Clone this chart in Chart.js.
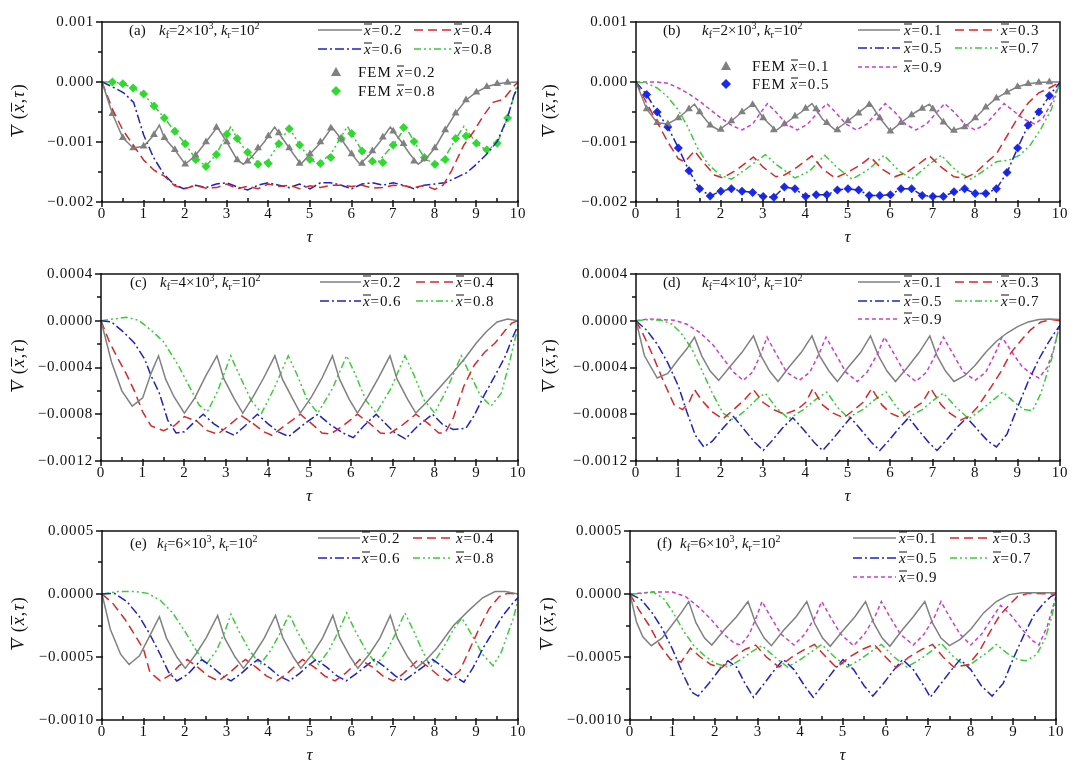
<!DOCTYPE html>
<html lang="en">
<head>
<meta charset="UTF-8">
<title>Dynamic response V(x,τ) for different foundation stiffness</title>
<script src="https://cdn.jsdelivr.net/npm/chart.js"></script>
<style>
    body {
        margin: 0;
        width: 1076px;
        height: 760px;
        position: relative;
        overflow: hidden;
        background: #fff;
        font-family: 'Liberation Serif', 'Times New Roman', serif;
        color: #111;
    }
    canvas { position: absolute; }
    .txt {
        position: absolute;
        white-space: nowrap;
        font-size: 15px;
        line-height: 1;
        transform: translateY(-50%);
    }
    .key-txt { letter-spacing: 0.9px; }
    .fem { letter-spacing: 1px; }
    .ov {
        display: inline-block;
        font-style: italic;
        line-height: 0.72em;
        border-top: 1px solid currentColor;
    }
    .sub { font-size: 10px; vertical-align: -3px; }
    .sup { font-size: 10px; vertical-align: 6px; }
    .ytitle {
        position: absolute;
        white-space: nowrap;
        font-size: 18px;
        letter-spacing: 1px;
        line-height: 1;
        transform: translate(-50%, -50%) rotate(-90deg);
    }
    svg.key { position: absolute; overflow: visible; }
</style>
</head>
<body>
<script>
// ---- axis ticks ----
const xTicks = [0, 1, 2, 3, 4, 5, 6, 7, 8, 9, 10];
const yTicksAB = [0.001, 0, -0.001, -0.002];
const yTicksCD = [0.0004, 0, -0.0004, -0.0008, -0.0012];
const yTicksEF = [0.0005, 0, -0.0005, -0.001];

// ---- (a) kf=2e3, x = 0.2 / 0.4 / 0.6 / 0.8 ----  [tau, V]
const a_x02 = [[0,0],[0.25,-0.00053],[0.5,-0.00093],[0.75,-0.0011],[1,-0.00107],[1.2,-0.00092],[1.38,-0.00072],[1.5,-0.00093],[1.75,-0.00113],[2,-0.00137],[2.25,-0.00122],[2.5,-0.001],[2.77,-0.00075],[3,-0.001],[3.25,-0.0013],[3.4,-0.00137],[3.6,-0.00125],[3.9,-0.001],[4.15,-0.00075],[4.4,-0.001],[4.6,-0.0012],[4.78,-0.00137],[5,-0.0012],[5.3,-0.00098],[5.53,-0.00075],[5.8,-0.001],[6,-0.0012],[6.2,-0.00137],[6.45,-0.0012],[6.7,-0.00098],[6.93,-0.00075],[7.2,-0.001],[7.4,-0.0012],[7.6,-0.00137],[7.8,-0.00127],[8,-0.0011],[8.25,-0.0008],[8.5,-0.00052],[8.75,-0.0003],[9,-0.00017],[9.25,-0.00008],[9.5,-0.00003],[9.75,-0.00001],[10,0]];
const a_x04 = [[0,0],[0.25,-0.00045],[0.5,-0.0008],[0.75,-0.00105],[1,-0.0013],[1.25,-0.00147],[1.5,-0.00157],[1.75,-0.00173],[2,-0.00178],[2.25,-0.00172],[2.5,-0.00177],[2.75,-0.00176],[3,-0.0017],[3.25,-0.00178],[3.5,-0.00174],[3.75,-0.00178],[4,-0.0017],[4.25,-0.00174],[4.5,-0.00172],[4.75,-0.00178],[5,-0.00173],[5.25,-0.00176],[5.5,-0.00172],[5.75,-0.00172],[6,-0.00174],[6.25,-0.00172],[6.5,-0.00177],[6.75,-0.00176],[7,-0.00172],[7.25,-0.00173],[7.5,-0.00176],[7.75,-0.00172],[8,-0.00179],[8.2,-0.00172],[8.4,-0.00148],[8.7,-0.00105],[8.93,-0.00083],[9.17,-0.00056],[9.4,-0.00034],[9.65,-0.00029],[9.9,-0.00007],[10,0]];
const a_x06 = [[0,0],[0.25,-0.00008],[0.52,-0.00018],[0.76,-0.00034],[1,-0.00088],[1.24,-0.00126],[1.48,-0.00153],[1.72,-0.0017],[1.96,-0.00178],[2.25,-0.00172],[2.5,-0.00176],[2.75,-0.0017],[3,-0.00168],[3.25,-0.00175],[3.5,-0.0018],[3.75,-0.00172],[4,-0.00168],[4.25,-0.00172],[4.5,-0.00176],[4.75,-0.0017],[5,-0.00178],[5.25,-0.00168],[5.5,-0.00168],[5.75,-0.00172],[6,-0.00178],[6.25,-0.0017],[6.5,-0.00168],[6.75,-0.00172],[7,-0.00168],[7.25,-0.00172],[7.5,-0.00178],[7.75,-0.00172],[8,-0.0017],[8.25,-0.00168],[8.53,-0.00159],[8.77,-0.00151],[9,-0.00137],[9.25,-0.0012],[9.5,-0.00099],[9.74,-0.00061],[9.9,-0.00023],[10,-0.00008]];
const a_x08 = [[0,0],[0.25,0],[0.5,-0.00003],[0.75,-0.0001],[1,-0.0002],[1.25,-0.0004],[1.5,-0.0006],[1.75,-0.00082],[2,-0.00103],[2.25,-0.00128],[2.5,-0.0014],[2.75,-0.0012],[3.1,-0.00074],[3.25,-0.00095],[3.5,-0.00118],[3.8,-0.00138],[4,-0.0013],[4.25,-0.00103],[4.5,-0.00076],[4.75,-0.00105],[5,-0.00128],[5.2,-0.00137],[5.5,-0.0012],[5.9,-0.00074],[6.25,-0.00115],[6.6,-0.00136],[7,-0.00105],[7.3,-0.00075],[7.5,-0.00099],[7.75,-0.00126],[8,-0.00138],[8.25,-0.00125],[8.5,-0.00095],[8.7,-0.00074],[9,-0.00102],[9.25,-0.00114],[9.5,-0.00102],[9.75,-0.0006],[10,0]];
const a_fem02 = [[0.25,-0.00053],[0.5,-0.00093],[0.75,-0.0011],[1,-0.00107],[1.25,-0.00088],[1.5,-0.00093],[1.75,-0.00113],[2,-0.00137],[2.25,-0.00122],[2.5,-0.001],[2.75,-0.00076],[3,-0.001],[3.25,-0.0013],[3.5,-0.00132],[3.75,-0.0011],[4,-0.0009],[4.25,-0.00085],[4.5,-0.0011],[4.75,-0.00136],[5,-0.0012],[5.25,-0.001],[5.5,-0.00077],[5.75,-0.00095],[6,-0.0012],[6.25,-0.00136],[6.5,-0.00115],[6.75,-0.00092],[7,-0.00082],[7.25,-0.00103],[7.5,-0.00132],[7.75,-0.00128],[8,-0.0011],[8.25,-0.0008],[8.5,-0.00052],[8.75,-0.0003],[9,-0.00017],[9.25,-0.00008],[9.5,-0.00003],[9.75,-0.00001]];
const a_fem08 = [[0.25,0],[0.5,-0.00003],[0.75,-0.0001],[1,-0.0002],[1.25,-0.0004],[1.5,-0.0006],[1.75,-0.00082],[2,-0.00103],[2.25,-0.00129],[2.5,-0.00141],[2.75,-0.00121],[3,-0.00087],[3.25,-0.00094],[3.5,-0.00117],[3.75,-0.00137],[4,-0.00136],[4.25,-0.00103],[4.5,-0.00078],[4.75,-0.00105],[5,-0.00129],[5.25,-0.00136],[5.5,-0.00126],[5.75,-0.00094],[6,-0.00086],[6.25,-0.00115],[6.5,-0.00132],[6.75,-0.00134],[7,-0.00105],[7.25,-0.00076],[7.5,-0.00099],[7.75,-0.00126],[8,-0.00137],[8.25,-0.00129],[8.5,-0.00094],[8.75,-0.0009],[9,-0.00102],[9.25,-0.00113],[9.5,-0.00102],[9.75,-0.0006]];

// ---- (b) kf=2e3, x = 0.1 / 0.3 / 0.5 / 0.7 / 0.9 ----
const b_x01 = [[0,0],[0.25,-0.00045],[0.5,-0.00068],[0.75,-0.0007],[1,-0.0006],[1.25,-0.00045],[1.38,-0.00037],[1.5,-0.0005],[1.75,-0.00072],[1.95,-0.0008],[2.25,-0.00065],[2.5,-0.0005],[2.77,-0.00036],[3,-0.0006],[3.3,-0.00081],[3.6,-0.00065],[3.9,-0.0005],[4.15,-0.00036],[4.4,-0.00062],[4.7,-0.0008],[5,-0.00065],[5.3,-0.00048],[5.53,-0.00036],[5.75,-0.0006],[6,-0.00082],[6.3,-0.00065],[6.6,-0.0005],[6.92,-0.00037],[7.2,-0.00062],[7.45,-0.00081],[7.75,-0.00075],[8,-0.0006],[8.25,-0.00042],[8.5,-0.00027],[8.75,-0.00017],[9,-0.00008],[9.25,-0.00003],[9.5,-0.00001],[9.75,0],[10,0]];
const b_x03 = [[0,0],[0.25,-0.00035],[0.5,-0.00067],[0.75,-0.001],[1,-0.00128],[1.15,-0.00133],[1.38,-0.00115],[1.6,-0.00135],[1.85,-0.00155],[2.05,-0.0016],[2.4,-0.00145],[2.77,-0.00125],[3,-0.00142],[3.3,-0.00158],[3.5,-0.00155],[3.8,-0.00142],[4.15,-0.00123],[4.4,-0.00145],[4.7,-0.0016],[5,-0.0015],[5.3,-0.00138],[5.53,-0.00125],[5.8,-0.00145],[6.1,-0.00158],[6.4,-0.0015],[6.7,-0.00135],[6.92,-0.00123],[7.2,-0.00142],[7.5,-0.00158],[7.75,-0.0016],[8,-0.00152],[8.25,-0.00135],[8.5,-0.0012],[8.75,-0.0009],[9,-0.0006],[9.25,-0.00035],[9.5,-0.00018],[9.75,-0.0001],[10,0]];
const b_x05 = [[0,0],[0.25,-0.00021],[0.5,-0.0005],[0.75,-0.00075],[1,-0.0011],[1.25,-0.00148],[1.5,-0.00178],[1.75,-0.0019],[2,-0.00182],[2.25,-0.00178],[2.5,-0.00182],[2.75,-0.00184],[3,-0.00191],[3.25,-0.00192],[3.5,-0.00175],[3.75,-0.00178],[4,-0.00191],[4.25,-0.00188],[4.5,-0.00188],[4.75,-0.0018],[5,-0.00178],[5.25,-0.0018],[5.5,-0.00189],[5.75,-0.00189],[6,-0.00188],[6.25,-0.00178],[6.5,-0.00178],[6.75,-0.00189],[7,-0.00191],[7.25,-0.00191],[7.5,-0.00183],[7.75,-0.00178],[8,-0.00186],[8.25,-0.00186],[8.5,-0.00178],[8.75,-0.00151],[9,-0.0011],[9.25,-0.00072],[9.5,-0.0005],[9.75,-0.00023],[10,0]];
const b_x07 = [[0,0],[0.25,-0.00002],[0.5,-0.0001],[0.75,-0.00025],[1,-0.00047],[1.2,-0.00072],[1.45,-0.0011],[1.7,-0.00137],[2,-0.00156],[2.25,-0.00162],[2.6,-0.00145],[3.05,-0.00121],[3.3,-0.00137],[3.75,-0.0016],[4.1,-0.00148],[4.45,-0.00122],[4.75,-0.00143],[5.1,-0.00162],[5.5,-0.00145],[5.85,-0.00122],[6.2,-0.00148],[6.5,-0.00162],[6.9,-0.00138],[7.2,-0.00122],[7.55,-0.00148],[7.9,-0.00162],[8.2,-0.00148],[8.5,-0.00133],[8.8,-0.0013],[9.05,-0.00122],[9.3,-0.00105],[9.55,-0.00078],[9.8,-0.00045],[10,0]];
const b_x09 = [[0,0],[0.5,0],[0.75,-0.00002],[1,-0.0001],[1.25,-0.0002],[1.5,-0.00032],[1.75,-0.00046],[2,-0.0006],[2.25,-0.00072],[2.5,-0.0008],[2.75,-0.0007],[2.95,-0.0005],[3.1,-0.00036],[3.3,-0.0005],[3.55,-0.0007],[3.8,-0.0008],[4.05,-0.0007],[4.3,-0.0005],[4.5,-0.00036],[4.7,-0.0005],[4.95,-0.0007],[5.2,-0.0008],[5.45,-0.0007],[5.7,-0.0005],[5.88,-0.00036],[6.1,-0.0005],[6.35,-0.0007],[6.6,-0.0008],[6.85,-0.0007],[7.1,-0.0005],[7.28,-0.00036],[7.5,-0.0005],[7.75,-0.0007],[8,-0.0008],[8.25,-0.0007],[8.5,-0.0005],[8.68,-0.00036],[8.9,-0.00048],[9.15,-0.00062],[9.4,-0.0007],[9.6,-0.0006],[9.8,-0.00035],[10,0]];
const b_fem01 = [[0.25,-0.00045],[0.5,-0.00068],[0.75,-0.0007],[1,-0.0006],[1.25,-0.00045],[1.5,-0.0005],[1.75,-0.00072],[2,-0.00079],[2.25,-0.00065],[2.5,-0.0005],[2.75,-0.00038],[3,-0.0006],[3.25,-0.0008],[3.5,-0.0007],[3.75,-0.00057],[4,-0.00044],[4.25,-0.00045],[4.5,-0.00068],[4.75,-0.0008],[5,-0.00065],[5.25,-0.00052],[5.5,-0.00038],[5.75,-0.0006],[6,-0.00082],[6.25,-0.00068],[6.5,-0.00055],[6.75,-0.00044],[7,-0.00045],[7.25,-0.00067],[7.5,-0.00081],[7.75,-0.00075],[8,-0.0006],[8.25,-0.00042],[8.5,-0.00027],[8.75,-0.00017],[9,-0.00008],[9.25,-0.00003],[9.5,-0.00001],[9.75,0]];
const b_fem05 = [[0.25,-0.00021],[0.5,-0.0005],[0.75,-0.00075],[1,-0.0011],[1.25,-0.00148],[1.5,-0.00178],[1.75,-0.0019],[2,-0.00182],[2.25,-0.00178],[2.5,-0.00182],[2.75,-0.00184],[3,-0.00191],[3.25,-0.00192],[3.5,-0.00175],[3.75,-0.00178],[4,-0.00191],[4.25,-0.00188],[4.5,-0.00188],[4.75,-0.0018],[5,-0.00178],[5.25,-0.0018],[5.5,-0.00189],[5.75,-0.00189],[6,-0.00188],[6.25,-0.00178],[6.5,-0.00178],[6.75,-0.00189],[7,-0.00191],[7.25,-0.00191],[7.5,-0.00183],[7.75,-0.00178],[8,-0.00186],[8.25,-0.00186],[8.5,-0.00178],[8.75,-0.00151],[9,-0.0011],[9.25,-0.00072],[9.5,-0.0005],[9.75,-0.00023]];

// ---- (c) kf=4e3, x = 0.2 / 0.4 / 0.6 / 0.8 ----
const c_x02 = [[0,0],[0.25,-0.00035],[0.5,-0.0006],[0.75,-0.00073],[1,-0.00066],[1.2,-0.00045],[1.38,-0.0003],[1.55,-0.0005],[1.75,-0.00065],[2,-0.00079],[2.25,-0.00066],[2.5,-0.00048],[2.78,-0.0003],[2.95,-0.0005],[3.2,-0.00067],[3.4,-0.00079],[3.65,-0.00065],[3.9,-0.00049],[4.17,-0.0003],[4.35,-0.0005],[4.6,-0.00067],[4.78,-0.00079],[5.05,-0.00065],[5.3,-0.00049],[5.55,-0.0003],[5.72,-0.0005],[5.95,-0.00067],[6.15,-0.00079],[6.4,-0.00065],[6.65,-0.00049],[6.93,-0.0003],[7.1,-0.0005],[7.35,-0.00067],[7.55,-0.00079],[7.8,-0.0007],[8,-0.00062],[8.25,-0.00052],[8.5,-0.00042],[8.75,-0.00031],[9,-0.00019],[9.25,-0.00009],[9.5,-0.00001],[9.75,0.000015],[10,0]];
const c_x04 = [[0,0],[0.2,-0.00018],[0.4,-0.00032],[0.6,-0.00045],[0.8,-0.0006],[1,-0.00078],[1.2,-0.0009],[1.5,-0.00094],[1.75,-0.0009],[2,-0.00082],[2.3,-0.00086],[2.55,-0.00094],[2.8,-0.00097],[3.05,-0.0009],[3.35,-0.00081],[3.65,-0.00088],[3.9,-0.00095],[4.1,-0.00098],[4.4,-0.0009],[4.78,-0.0008],[5.05,-0.00088],[5.3,-0.00096],[5.5,-0.00097],[5.8,-0.0009],[6.15,-0.0008],[6.45,-0.00088],[6.7,-0.00096],[6.9,-0.00097],[7.2,-0.0009],[7.55,-0.0008],[7.85,-0.00088],[8.1,-0.00096],[8.25,-0.00096],[8.45,-0.00083],[8.7,-0.00056],[8.95,-0.00038],[9.2,-0.00027],[9.45,-0.00019],[9.7,-0.00008],[9.85,-0.00002],[10,0]];
const c_x06 = [[0,0],[0.25,-0.00001],[0.55,-0.0001],[0.8,-0.00019],[1.05,-0.00033],[1.2,-0.00047],[1.4,-0.00062],[1.6,-0.00085],[1.8,-0.00096],[2,-0.00095],[2.2,-0.00088],[2.45,-0.0008],[2.7,-0.00088],[2.95,-0.00094],[3.2,-0.00098],[3.45,-0.0009],[3.75,-0.0008],[4,-0.00088],[4.25,-0.00095],[4.5,-0.00099],[4.85,-0.00089],[5.2,-0.0008],[5.5,-0.00089],[5.8,-0.00096],[6.05,-0.001],[6.3,-0.0009],[6.6,-0.0008],[6.85,-0.00089],[7.05,-0.00096],[7.3,-0.00101],[7.6,-0.0009],[7.95,-0.0008],[8.2,-0.00089],[8.45,-0.00093],[8.75,-0.00092],[8.95,-0.00081],[9.2,-0.00063],[9.45,-0.00047],[9.7,-0.0003],[9.85,-0.00016],[10,-0.00004]];
const c_x08 = [[0,0],[0.3,0.000015],[0.6,0.00003],[0.9,0.000005],[1.2,-0.00008],[1.5,-0.00018],[1.85,-0.00038],[2.1,-0.00055],[2.35,-0.00072],[2.55,-0.00078],[2.8,-0.0006],[3.11,-0.0003],[3.3,-0.00045],[3.6,-0.00068],[3.85,-0.00079],[4.15,-0.00058],[4.49,-0.0003],[4.7,-0.00046],[4.95,-0.00068],[5.2,-0.00079],[5.55,-0.00058],[5.89,-0.0003],[6.1,-0.00046],[6.35,-0.00068],[6.6,-0.00079],[6.95,-0.00058],[7.29,-0.0003],[7.5,-0.00046],[7.75,-0.00068],[8,-0.00079],[8.3,-0.00058],[8.64,-0.0003],[8.85,-0.00046],[9.1,-0.00064],[9.35,-0.00073],[9.6,-0.00062],[9.8,-0.00035],[10,-0.00005]];

// ---- (d) kf=4e3, x = 0.1 / 0.3 / 0.5 / 0.7 / 0.9 ----
const d_x01 = [[0,0],[0.2,-0.0003],[0.5,-0.00049],[0.75,-0.00045],[1,-0.00033],[1.2,-0.00024],[1.38,-0.00014],[1.55,-0.0003],[1.75,-0.00043],[1.95,-0.00051],[2.2,-0.0004],[2.5,-0.00027],[2.77,-0.00013],[2.95,-0.0003],[3.15,-0.00043],[3.35,-0.00052],[3.6,-0.0004],[3.9,-0.00027],[4.15,-0.00013],[4.33,-0.0003],[4.55,-0.00043],[4.75,-0.00052],[5,-0.0004],[5.3,-0.00027],[5.53,-0.00013],[5.72,-0.0003],[5.92,-0.00043],[6.12,-0.00052],[6.4,-0.0004],[6.68,-0.00027],[6.93,-0.00013],[7.1,-0.0003],[7.3,-0.00043],[7.5,-0.00052],[7.75,-0.00047],[8,-0.00038],[8.25,-0.00027],[8.5,-0.000175],[8.75,-0.000105],[9,-0.00005],[9.25,-0.00001],[9.5,0.00001],[9.75,0.000015],[10,0.00001]];
const d_x03 = [[0,0],[0.15,-0.0001],[0.4,-0.0003],[0.65,-0.00052],[0.9,-0.00072],[1.1,-0.00076],[1.25,-0.0007],[1.38,-0.00059],[1.55,-0.00068],[1.8,-0.00078],[2.05,-0.00084],[2.3,-0.00076],[2.55,-0.00068],[2.77,-0.00059],[3,-0.0007],[3.25,-0.00076],[3.5,-0.0008],[3.8,-0.00076],[4,-0.0007],[4.17,-0.00058],[4.4,-0.00072],[4.65,-0.00079],[4.9,-0.00083],[5.15,-0.00076],[5.35,-0.0007],[5.56,-0.00058],[5.8,-0.00072],[6,-0.00079],[6.25,-0.00083],[6.5,-0.00076],[6.75,-0.0007],[6.95,-0.00058],[7.2,-0.00072],[7.4,-0.00079],[7.65,-0.00085],[7.85,-0.00082],[8.05,-0.00074],[8.35,-0.00058],[8.6,-0.00044],[8.85,-0.00027],[9.1,-0.00016],[9.3,-0.00008],[9.55,-0.00001],[9.8,0.00001],[10,0]];
const d_x05 = [[0,0],[0.25,-0.00008],[0.5,-0.0002],[0.75,-0.00036],[1,-0.00056],[1.2,-0.00078],[1.4,-0.00098],[1.6,-0.00108],[1.8,-0.00103],[2.05,-0.00092],[2.3,-0.00082],[2.55,-0.00093],[2.8,-0.00104],[3,-0.00111],[3.2,-0.00103],[3.45,-0.00092],[3.7,-0.00083],[3.95,-0.00093],[4.2,-0.00104],[4.4,-0.00111],[4.6,-0.00103],[4.85,-0.00092],[5.06,-0.00083],[5.3,-0.00093],[5.55,-0.00104],[5.75,-0.00111],[5.95,-0.00103],[6.2,-0.00092],[6.43,-0.00083],[6.65,-0.00093],[6.9,-0.00104],[7.1,-0.00111],[7.3,-0.00103],[7.55,-0.00092],[7.8,-0.00083],[8.05,-0.00093],[8.3,-0.00103],[8.5,-0.00108],[8.75,-0.00097],[9,-0.00074],[9.25,-0.00052],[9.5,-0.00033],[9.72,-0.00019],[9.88,-0.0001],[10,-0.00004]];
const d_x07 = [[0,0],[0.3,0.00001],[0.6,0.000005],[0.85,-0.00003],[1.05,-0.0001],[1.3,-0.00023],[1.55,-0.00042],[1.8,-0.00062],[2.05,-0.00079],[2.3,-0.00085],[2.6,-0.00076],[2.85,-0.00067],[3.05,-0.00062],[3.3,-0.00074],[3.6,-0.00084],[3.95,-0.00076],[4.25,-0.00067],[4.5,-0.00061],[4.75,-0.00074],[5,-0.00083],[5.35,-0.00076],[5.65,-0.00067],[5.9,-0.00061],[6.15,-0.00074],[6.4,-0.00083],[6.75,-0.00076],[7.05,-0.00067],[7.25,-0.00062],[7.55,-0.00074],[7.85,-0.00084],[8.15,-0.00076],[8.45,-0.00067],[8.65,-0.00061],[8.9,-0.00069],[9.15,-0.00076],[9.35,-0.00077],[9.55,-0.00062],[9.8,-0.00033],[10,-0.00002]];
const d_x09 = [[0,0],[0.3,0.000015],[0.6,0.00001],[0.9,0.000005],[1.2,-0.00003],[1.5,-0.0001],[1.8,-0.0002],[2.05,-0.00032],[2.3,-0.00044],[2.53,-0.00051],[2.75,-0.00044],[2.95,-0.00028],[3.09,-0.00014],[3.3,-0.00028],[3.55,-0.00044],[3.85,-0.00051],[4.1,-0.00044],[4.32,-0.00028],[4.48,-0.00014],[4.7,-0.00028],[4.95,-0.00044],[5.22,-0.00052],[5.45,-0.00044],[5.7,-0.00028],[5.86,-0.00014],[6.08,-0.00028],[6.33,-0.00044],[6.6,-0.00052],[6.85,-0.00044],[7.08,-0.00028],[7.25,-0.00014],[7.47,-0.00028],[7.72,-0.00044],[8,-0.00051],[8.25,-0.00044],[8.47,-0.00028],[8.63,-0.00014],[8.85,-0.00026],[9.1,-0.00039],[9.35,-0.00046],[9.5,-0.00049],[9.7,-0.0004],[9.85,-0.00025],[10,-0.00002]];

// ---- (e) kf=6e3, x = 0.2 / 0.4 / 0.6 / 0.8 ----
const e_x02 = [[0,0],[0.2,-0.00028],[0.45,-0.00048],[0.65,-0.00056],[0.9,-0.00049],[1.15,-0.00033],[1.38,-0.00018],[1.55,-0.00035],[1.8,-0.0005],[2,-0.00059],[2.25,-0.00048],[2.5,-0.00035],[2.78,-0.00017],[2.95,-0.00035],[3.2,-0.0005],[3.4,-0.00059],[3.65,-0.00048],[3.9,-0.00035],[4.17,-0.00017],[4.35,-0.00035],[4.6,-0.0005],[4.78,-0.00059],[5.05,-0.00048],[5.3,-0.00035],[5.55,-0.00017],[5.72,-0.00035],[5.97,-0.0005],[6.15,-0.00059],[6.42,-0.00048],[6.68,-0.00035],[6.93,-0.00017],[7.1,-0.00035],[7.35,-0.0005],[7.55,-0.00059],[7.8,-0.00052],[8.05,-0.00043],[8.45,-0.00025],[8.85,-0.00012],[9.15,-0.00003],[9.45,0.00002],[9.7,0.00002],[10,0]];
const e_x04 = [[0,0],[0.25,-0.00007],[0.55,-0.0002],[0.8,-0.00033],[1,-0.00044],[1.15,-0.00062],[1.4,-0.00069],[1.65,-0.00064],[1.85,-0.00057],[2.05,-0.00052],[2.3,-0.00058],[2.55,-0.00065],[2.8,-0.00069],[3.05,-0.00063],[3.25,-0.00057],[3.45,-0.00052],[3.7,-0.00058],[3.95,-0.00065],[4.2,-0.00069],[4.45,-0.00063],[4.65,-0.00057],[4.82,-0.00052],[5.1,-0.00058],[5.35,-0.00065],[5.6,-0.00069],[5.85,-0.00063],[6.05,-0.00057],[6.2,-0.00052],[6.5,-0.00058],[6.75,-0.00065],[7,-0.00069],[7.25,-0.00063],[7.45,-0.00057],[7.6,-0.00052],[7.85,-0.00058],[8.1,-0.00065],[8.3,-0.00069],[8.6,-0.00061],[8.85,-0.00043],[9.1,-0.00025],[9.3,-0.00012],[9.55,-0.00002],[9.75,0.000005],[10,0]];
const e_x06 = [[0,0],[0.3,0.000005],[0.6,-0.00006],[0.9,-0.00018],[1.15,-0.00032],[1.4,-0.00048],[1.6,-0.00062],[1.8,-0.00069],[2.05,-0.00064],[2.25,-0.00057],[2.4,-0.00052],[2.65,-0.00058],[2.9,-0.00065],[3.1,-0.00069],[3.35,-0.00063],[3.55,-0.00057],[3.75,-0.00052],[4,-0.00058],[4.25,-0.00065],[4.5,-0.00069],[4.75,-0.00063],[4.95,-0.00057],[5.15,-0.00052],[5.4,-0.00058],[5.65,-0.00065],[5.87,-0.00069],[6.12,-0.00063],[6.35,-0.00057],[6.55,-0.00052],[6.8,-0.00058],[7.05,-0.00065],[7.25,-0.00069],[7.5,-0.00063],[7.75,-0.00057],[7.95,-0.00052],[8.2,-0.00058],[8.45,-0.00065],[8.7,-0.0007],[8.92,-0.000585],[9.16,-0.00043],[9.4,-0.0003],[9.64,-0.00017],[9.88,-0.00007],[10,-0.00003]];
const e_x08 = [[0,0],[0.4,0.00002],[0.8,0.00002],[1.1,0.000005],[1.4,-0.00005],[1.7,-0.00015],[2,-0.0003],[2.25,-0.00044],[2.5,-0.00056],[2.75,-0.00045],[2.95,-0.0003],[3.1,-0.00016],[3.3,-0.0003],[3.55,-0.00045],[3.8,-0.00056],[4.05,-0.00045],[4.3,-0.0003],[4.5,-0.00016],[4.7,-0.0003],[4.95,-0.00045],[5.2,-0.00056],[5.45,-0.00045],[5.68,-0.0003],[5.88,-0.00015],[6.1,-0.0003],[6.35,-0.00045],[6.6,-0.00056],[6.85,-0.00045],[7.08,-0.0003],[7.28,-0.00015],[7.5,-0.0003],[7.7,-0.00045],[7.9,-0.00058],[8.2,-0.00043],[8.45,-0.00028],[8.65,-0.00019],[8.9,-0.00033],[9.15,-0.00048],[9.4,-0.00057],[9.6,-0.00046],[9.75,-0.00032],[9.88,-0.0002],[10,-0.00005]];

// ---- (f) kf=6e3, x = 0.1 / 0.3 / 0.5 / 0.7 / 0.9 ----
const f_x01 = [[0,0],[0.15,-0.00022],[0.3,-0.00034],[0.5,-0.00041],[0.75,-0.00035],[1,-0.00024],[1.2,-0.00015],[1.38,-0.00006],[1.55,-0.00023],[1.75,-0.00035],[1.92,-0.000405],[2.2,-0.00029],[2.5,-0.00018],[2.77,-0.00006],[2.95,-0.00023],[3.15,-0.00035],[3.32,-0.00041],[3.6,-0.00029],[3.9,-0.00018],[4.15,-0.00006],[4.33,-0.00023],[4.52,-0.00035],[4.7,-0.000415],[5,-0.00029],[5.28,-0.00018],[5.53,-0.00006],[5.72,-0.00023],[5.92,-0.00035],[6.1,-0.000415],[6.38,-0.00029],[6.65,-0.00018],[6.92,-0.00006],[7.1,-0.00023],[7.3,-0.00035],[7.5,-0.00041],[7.75,-0.00036],[8,-0.00028],[8.3,-0.00015],[8.6,-0.00006],[8.9,-0.000005],[9.2,0.00001],[9.6,0.00001],[10,0.00001]];
const f_x03 = [[0,0],[0.2,-0.00012],[0.45,-0.00025],[0.7,-0.000405],[0.95,-0.00052],[1.2,-0.00054],[1.42,-0.00043],[1.65,-0.0005],[1.9,-0.00056],[2.15,-0.000585],[2.45,-0.0005],[2.7,-0.00044],[2.95,-0.000405],[3.2,-0.0005],[3.5,-0.00058],[3.8,-0.0005],[4.1,-0.00044],[4.33,-0.0004],[4.6,-0.0005],[4.85,-0.000585],[5.15,-0.0005],[5.45,-0.00044],[5.73,-0.0004],[6,-0.0005],[6.25,-0.000585],[6.55,-0.0005],[6.85,-0.00044],[7.1,-0.0004],[7.35,-0.0005],[7.6,-0.00058],[7.95,-0.00056],[8.2,-0.000455],[8.45,-0.0003],[8.68,-0.00017],[8.92,-0.00008],[9.1,-0.00002],[9.35,0.000005],[10,0]];
const f_x05 = [[0,0],[0.25,-0.00004],[0.5,-0.00014],[0.75,-0.00027],[1,-0.00044],[1.25,-0.00064],[1.45,-0.00078],[1.6,-0.00081],[1.85,-0.00071],[2.1,-0.0006],[2.3,-0.00053],[2.5,-0.00058],[2.7,-0.00071],[2.9,-0.00082],[3.15,-0.00071],[3.4,-0.0006],[3.6,-0.00052],[3.85,-0.0006],[4.1,-0.00073],[4.3,-0.00082],[4.55,-0.00071],[4.8,-0.0006],[5,-0.00052],[5.25,-0.0006],[5.5,-0.00073],[5.7,-0.00081],[5.95,-0.00071],[6.2,-0.0006],[6.4,-0.00052],[6.65,-0.0006],[6.9,-0.00073],[7.05,-0.00082],[7.3,-0.00071],[7.55,-0.0006],[7.75,-0.00052],[8,-0.0006],[8.25,-0.00073],[8.5,-0.00081],[8.76,-0.00071],[9,-0.00051],[9.24,-0.00033],[9.48,-0.00017],[9.72,-0.00007],[9.88,-0.00002],[10,0]];
const f_x07 = [[0,0],[0.3,0.000005],[0.55,0.000015],[0.8,-0.00004],[1,-0.00014],[1.25,-0.00029],[1.5,-0.00041],[1.75,-0.00049],[2,-0.00055],[2.3,-0.00058],[2.6,-0.00052],[2.85,-0.00046],[3.1,-0.00041],[3.4,-0.0005],[3.7,-0.00058],[4,-0.00052],[4.25,-0.00046],[4.5,-0.0004],[4.8,-0.0005],[5.1,-0.00058],[5.4,-0.00052],[5.65,-0.00046],[5.9,-0.0004],[6.2,-0.0005],[6.5,-0.00058],[6.8,-0.00052],[7.05,-0.00046],[7.3,-0.00039],[7.6,-0.0005],[7.9,-0.00058],[8.15,-0.00052],[8.4,-0.00046],[8.6,-0.0004],[8.85,-0.00047],[9.1,-0.00052],[9.3,-0.00053],[9.55,-0.00048],[9.75,-0.00035],[9.9,-0.00018],[10,-0.00003]];
const f_x09 = [[0,0],[0.5,0.000015],[1,0.000015],[1.3,-0.00002],[1.6,-0.0001],[1.9,-0.0002],[2.2,-0.00032],[2.45,-0.00039],[2.6,-0.000405],[2.8,-0.00032],[2.97,-0.00018],[3.1,-0.00006],[3.3,-0.00018],[3.55,-0.00032],[3.85,-0.000405],[4.1,-0.00032],[4.35,-0.00018],[4.5,-0.00006],[4.7,-0.00018],[4.95,-0.00032],[5.25,-0.00041],[5.5,-0.00032],[5.75,-0.00018],[5.9,-0.00006],[6.1,-0.00018],[6.35,-0.00032],[6.65,-0.000405],[6.9,-0.00032],[7.15,-0.00018],[7.3,-0.00006],[7.5,-0.00018],[7.75,-0.00032],[8,-0.000405],[8.25,-0.00032],[8.5,-0.00019],[8.7,-0.00009],[8.95,-0.00017],[9.2,-0.00028],[9.45,-0.00037],[9.6,-0.000405],[9.8,-0.00025],[10,-0.00002]];

// line styles
const STYLE = {
    gray:    { color: '#808080', dash: [] },
    red:     { color: '#d42a2a', dash: [9, 5] },
    blue:    { color: '#1f22c0', dash: [9, 3, 2, 3] },
    green:   { color: '#3acc3a', dash: [7, 3, 2, 3, 2, 3] },
    magenta: { color: '#cc3ccc', dash: [4, 3] }
};
const FONT = "'Liberation Serif', 'Times New Roman', serif";
const PAD_L = 80, PAD_T = 12, PAD_R = 14, PAD_B = 46;

// panel layout (plot-area box in page pixels)
const panels = [
    { left: 102, top: 17, right: 518, bottom: 202, yMin: -0.002, yMax: 0.001, yTicks: yTicksAB, dec: 3,
      lines: [[a_x02, 'gray'], [a_x04, 'red'], [a_x06, 'blue'], [a_x08, 'green']],
      fem: [[a_fem02, 'triangle', '#808080'], [a_fem08, 'rectRot', '#2edc2e']] },
    { left: 636, top: 17, right: 1060, bottom: 202, yMin: -0.002, yMax: 0.001, yTicks: yTicksAB, dec: 3,
      lines: [[b_x01, 'gray'], [b_x03, 'red'], [b_x05, 'blue'], [b_x07, 'green'], [b_x09, 'magenta']],
      fem: [[b_fem01, 'triangle', '#808080'], [b_fem05, 'rectRot', '#1a2af0']] },
    { left: 101, top: 269, right: 518, bottom: 461, yMin: -0.0012, yMax: 0.0004, yTicks: yTicksCD, dec: 4,
      lines: [[c_x02, 'gray'], [c_x04, 'red'], [c_x06, 'blue'], [c_x08, 'green']], fem: [] },
    { left: 636, top: 269, right: 1060, bottom: 461, yMin: -0.0012, yMax: 0.0004, yTicks: yTicksCD, dec: 4,
      lines: [[d_x01, 'gray'], [d_x03, 'red'], [d_x05, 'blue'], [d_x07, 'green'], [d_x09, 'magenta']], fem: [] },
    { left: 102, top: 526, right: 518, bottom: 720, yMin: -0.001, yMax: 0.0005, yTicks: yTicksEF, dec: 4,
      lines: [[e_x02, 'gray'], [e_x04, 'red'], [e_x06, 'blue'], [e_x08, 'green']], fem: [] },
    { left: 630, top: 526, right: 1056, bottom: 720, yMin: -0.001, yMax: 0.0005, yTicks: yTicksEF, dec: 4,
      lines: [[f_x01, 'gray'], [f_x03, 'red'], [f_x05, 'blue'], [f_x07, 'green'], [f_x09, 'magenta']], fem: [] }
];

function fmtTick(v, dec) {
    if (Math.abs(v) < 1e-12) return (0).toFixed(dec);
    return v.toFixed(dec).replace('-', '\u2212');
}

// box + ticks (major ticks cross the axis, minor ones are short)
const framePlugin = {
    id: 'frame',
    beforeDraw(chart) {
        chart.ctx.letterSpacing = '0.8px';
    },
    afterDatasetsDraw(chart) {
        const { ctx, chartArea: a, scales } = chart;
        ctx.save();
        ctx.strokeStyle = '#111';
        ctx.lineWidth = 1.5;
        ctx.strokeRect(a.left, a.top, a.right - a.left, a.bottom - a.top);
        ctx.beginPath();
        const xt = scales.x.ticks.map(t => t.value);
        xt.forEach((v, i) => {
            const px = Math.round(scales.x.getPixelForValue(v));
            ctx.moveTo(px, a.bottom - 2);
            ctx.lineTo(px, a.bottom + 5);
            if (i < xt.length - 1) {
                const mx = Math.round(scales.x.getPixelForValue((v + xt[i + 1]) / 2));
                ctx.moveTo(mx, a.bottom);
                ctx.lineTo(mx, a.bottom - 4);
            }
        });
        const yt = scales.y.ticks.map(t => t.value);
        yt.forEach((v, i) => {
            const py = Math.round(scales.y.getPixelForValue(v));
            ctx.moveTo(a.left - 6, py);
            ctx.lineTo(a.left + 1, py);
            if (i < yt.length - 1) {
                const my = Math.round(scales.y.getPixelForValue((v + yt[i + 1]) / 2));
                ctx.moveTo(a.left - 4, my);
                ctx.lineTo(a.left, my);
            }
        });
        ctx.stroke();
        ctx.restore();
    }
};

const toXY = pts => pts.map(([x, y]) => ({ x, y }));

function makePanel(p) {
    const W = (p.right - p.left) + PAD_L + PAD_R;
    const H = (p.bottom - p.top) + PAD_T + PAD_B;
    const cv = document.createElement('canvas');
    cv.width = W;
    cv.height = H;
    cv.style.left = (p.left - PAD_L) + 'px';
    cv.style.top = (p.top - PAD_T) + 'px';
    cv.style.width = W + 'px';
    cv.style.height = H + 'px';
    document.body.appendChild(cv);

    const datasets = p.lines.map(([pts, st]) => ({
        data: toXY(pts),
        borderColor: STYLE[st].color,
        borderDash: STYLE[st].dash,
        borderWidth: 1.5,
        pointRadius: 0,
        fill: false,
        tension: 0
    }));
    p.fem.forEach(([pts, shape, color]) => {
        datasets.push({
            data: toXY(pts),
            showLine: false,
            pointStyle: shape,
            pointRadius: 4.5,
            pointBackgroundColor: color,
            pointBorderColor: color,
            pointBorderWidth: 0
        });
    });

    new Chart(cv, {
        type: 'line',
        data: { datasets },
        options: {
            responsive: false,
            animation: false,
            events: [],
            layout: { padding: { left: 0, top: PAD_T, right: PAD_R, bottom: 0 } },
            plugins: { legend: { display: false }, tooltip: { enabled: false } },
            scales: {
                x: {
                    type: 'linear', min: 0, max: 10,
                    afterFit: s => { s.height = PAD_B; },
                    afterBuildTicks: s => { s.ticks = xTicks.map(v => ({ value: v })); },
                    grid: { display: false, drawTicks: false },
                    border: { display: false },
                    ticks: { padding: 3, autoSkip: false, maxRotation: 0, color: '#111',
                             font: { family: FONT, size: 15 }, callback: v => String(v) },
                    title: { display: true, text: 'τ', color: '#111', padding: { top: 0, bottom: 0 },
                             font: { family: FONT, size: 17, style: 'italic' } }
                },
                y: {
                    type: 'linear', min: p.yMin, max: p.yMax,
                    afterFit: s => { s.width = PAD_L; },
                    afterBuildTicks: s => { s.ticks = p.yTicks.map(v => ({ value: v })); },
                    grid: { display: false, drawTicks: false },
                    border: { display: false },
                    ticks: { padding: 8, color: '#111', font: { family: FONT, size: 15 },
                             callback: v => fmtTick(v, p.dec) }
                }
            }
        },
        plugins: [framePlugin]
    });
}

panels.forEach(makePanel);

// ---- text overlays: panel labels, legends, axis titles ----
function addText(x, y, html, cls) {
    document.body.insertAdjacentHTML('beforeend',
        `<div class="txt ${cls || ''}" style="left:${x}px;top:${y}px">${html}</div>`);
}
function addKey(x1, x2, y, st) {
    const s = STYLE[st];
    document.body.insertAdjacentHTML('beforeend',
        `<svg class="key" style="left:${x1}px;top:${y - 3}px" width="${x2 - x1}" height="6">` +
        `<line x1="0" y1="3" x2="${x2 - x1}" y2="3" stroke="${s.color}" stroke-width="1.5" stroke-dasharray="${s.dash.join(' ')}"/></svg>`);
}
function addMarker(cx, cy, shape, color) {
    const pts = shape === 'triangle'
        ? `${cx},${cy - 5} ${cx + 5},${cy + 4} ${cx - 5},${cy + 4}`
        : `${cx},${cy - 5} ${cx + 5},${cy} ${cx},${cy + 5} ${cx - 5},${cy}`;
    document.body.insertAdjacentHTML('beforeend',
        `<svg class="key" style="left:0;top:0" width="1" height="1"><polygon points="${pts}" fill="${color}"/></svg>`);
}
const xb = '<span class="ov">x</span>';
const kLabel = n => `<i>k</i><span class="sub">f</span>=${n}×10<span class="sup">3</span>, <i>k</i><span class="sub">r</span>=10<span class="sup">2</span>`;

// two-column legend helper
function legend(col1, col2, rows, entries) {
    entries.forEach(([st, val], i) => {
        const c = i % 2 === 0 ? col1 : col2;
        const y = rows[Math.floor(i / 2)];
        addKey(c[0], c[1], y, st);
        addText(c[2], y, `${xb}=${val}`, 'key-txt');
    });
}

// (a)
addText(129, 30, '(a)');
addText(159, 30, kLabel(2));
legend([318, 362, 364], [414, 451, 454], [30, 49], [['gray', '0.2'], ['red', '0.4'], ['blue', '0.6'], ['green', '0.8']]);
addMarker(336, 72, 'triangle', '#808080');
addText(358, 72, `FEM ${xb}=0.2`, 'fem');
addMarker(336, 91, 'diamond', '#2edc2e');
addText(358, 91, `FEM ${xb}=0.8`, 'fem');

// (b)
addText(663, 30, '(b)');
addText(702, 30, kLabel(2));
legend([858, 900, 904], [955, 998, 1001], [30, 48, 67], [['gray', '0.1'], ['red', '0.3'], ['blue', '0.5'], ['green', '0.7'], ['magenta', '0.9']]);
addMarker(726, 66, 'triangle', '#808080');
addText(752, 66, `FEM ${xb}=0.1`, 'fem');
addMarker(726, 84, 'diamond', '#1a2af0');
addText(752, 84, `FEM ${xb}=0.5`, 'fem');

// (c)
addText(130, 282, '(c)');
addText(160, 282, kLabel(4));
legend([320, 361, 363], [416, 453, 456], [282, 301], [['gray', '0.2'], ['red', '0.4'], ['blue', '0.6'], ['green', '0.8']]);

// (d)
addText(663, 282, '(d)');
addText(702, 282, kLabel(4));
legend([858, 900, 904], [955, 998, 1001], [282, 301, 319], [['gray', '0.1'], ['red', '0.3'], ['blue', '0.5'], ['green', '0.7'], ['magenta', '0.9']]);

// (e)
addText(130, 543, '(e)');
addText(157, 543, kLabel(6));
legend([318, 360, 362], [413, 452, 456], [538, 558], [['gray', '0.2'], ['red', '0.4'], ['blue', '0.6'], ['green', '0.8']]);

// (f)
addText(657, 543, '(f)');
addText(680, 543, kLabel(6));
legend([853, 896, 899], [950, 990, 993], [538, 558, 577], [['gray', '0.1'], ['red', '0.3'], ['blue', '0.5'], ['green', '0.7'], ['magenta', '0.9']]);

// y-axis titles
const yTitle = '<span class="ov">V</span> (<span class="ov">x</span>,<i>τ</i>)';
[[18, 110], [549, 110], [18, 365], [549, 365], [18, 623], [547, 623]].forEach(([x, y]) => {
    document.body.insertAdjacentHTML('beforeend', `<div class="ytitle" style="left:${x}px;top:${y}px">${yTitle}</div>`);
});
</script>
</body>
</html>
